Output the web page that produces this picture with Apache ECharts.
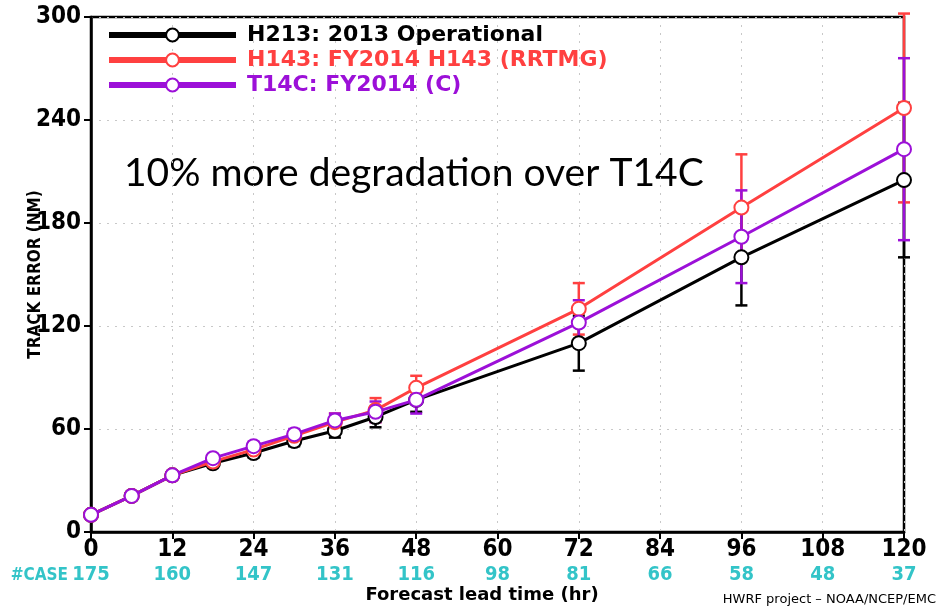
<!DOCTYPE html>
<html>
<head>
<meta charset="utf-8">
<script src="https://cdn.jsdelivr.net/npm/echarts@6/dist/echarts.min.js"></script>
<style>
html,body{margin:0;padding:0;background:#fff;}
#chart{width:940px;height:609px;}
</style>
</head>
<body>
<div id="chart"></div>
<script>
// ---- data ----
const hours = [0, 6, 12, 18, 24, 30, 36, 42, 48, 72, 96, 120];
const seriesNames = ['H213: 2013 Operational', 'H143: FY2014 H143 (RRTMG)', 'T14C: FY2014 (C)'];
const h213 = [10, 21, 33, 40, 46, 53, 59, 67, 77, 110, 160, 205];
const h143 = [10, 21, 33, 41, 48, 56, 64, 71, 84, 130, 189, 247];
const t14c = [10, 21, 33, 43, 50, 57, 65, 70, 77, 122, 172, 223];
const h213Err = [1, 1, 1.5, 2, 2.5, 3, 4, 6, 7, 16, 28, 45];
const h143Err = [1, 1, 1.5, 2, 2.5, 3, 5, 7, 7, 15, 31, 55];
const t14cErr = [1, 1, 1.5, 2, 2.5, 3, 4, 6, 8, 13, 27, 53];
const tickHours = [0, 12, 24, 36, 48, 60, 72, 84, 96, 108, 120];
const caseCounts = [175, 160, 147, 131, 116, 98, 81, 66, 58, 48, 37];
const yTicks = [0, 60, 120, 180, 240, 300];
const annotation = '10% more degradation over T14C';
const xTitle = 'Forecast lead time (hr)';
const yTitle = 'TRACK ERROR (NM)';

const colors = ['#000000', '#ff4040', '#9c10d8'];
const narrow = '"DejaVu Sans Condensed","Liberation Sans Narrow",sans-serif';
const cyan = '#33c4c8';

function pairs(vals) { return hours.map((h, i) => [h, vals[i]]); }
function errPairs(vals, err) { return hours.map((h, i) => [h, vals[i] - err[i], vals[i] + err[i]]); }

function errRender(color) {
  return function (params, api) {
    const x = api.value(0);
    const lo = api.coord([x, api.value(1)]);
    const hi = api.coord([x, api.value(2)]);
    const w = 6;
    const st = { stroke: color, lineWidth: 2.5 };
    return {
      type: 'group',
      children: [
        { type: 'line', shape: { x1: lo[0], y1: lo[1], x2: hi[0], y2: hi[1] }, style: st },
        { type: 'line', shape: { x1: lo[0] - w, y1: lo[1], x2: lo[0] + w, y2: lo[1] }, style: st },
        { type: 'line', shape: { x1: hi[0] - w, y1: hi[1], x2: hi[0] + w, y2: hi[1] }, style: st }
      ]
    };
  };
}

const lineVals = [h213, h143, t14c];
const errVals = [h213Err, h143Err, t14cErr];

const series = [];
lineVals.forEach((v, k) => {
  series.push({
    name: seriesNames[k] + ' error',
    type: 'custom',
    renderItem: errRender(colors[k]),
    data: errPairs(v, errVals[k]),
    encode: { x: 0, y: [1, 2] },
    z: 2 + k,
    silent: true
  });
});
lineVals.forEach((v, k) => {
  series.push({
    name: seriesNames[k],
    type: 'line',
    data: pairs(v),
    color: colors[k],
    symbol: 'emptyCircle',
    symbolSize: 14,
    lineStyle: { color: colors[k], width: 3 },
    itemStyle: { color: colors[k], borderColor: colors[k], borderWidth: 2.5 },
    z: 5 + k,
    animation: false
  });
});

const chart = echarts.init(document.getElementById('chart'), null, { renderer: 'canvas' });
chart.setOption({
  animation: false,
  backgroundColor: '#ffffff',
  grid: { left: 91, right: 36, top: 17, bottom: 77, show: true, borderColor: '#000', borderWidth: 2.5 },
  legend: {
    orient: 'vertical',
    left: 106,
    top: 24,
    padding: 0,
    itemWidth: 127,
    itemHeight: 16,
    itemGap: 3,
    data: seriesNames.map((n, k) => ({
      name: n,
      textStyle: { color: colors[k] }
    })),
    textStyle: { fontFamily: '"DejaVu Sans",sans-serif', fontWeight: 'bold', fontSize: 22, padding: [0, 0, 0, 6] },
    lineStyle: { width: 6 },
    itemStyle: { borderWidth: 2.5 }
  },
  xAxis: {
    type: 'value',
    min: 0, max: 120, interval: 12,
    axisLine: { lineStyle: { color: '#000', width: 2.5 } },
    axisTick: { length: 7, lineStyle: { color: '#000', width: 2 } },
    splitLine: { show: true, lineStyle: { color: '#c8c8c8', type: [2, 6], width: 1 } },
    axisLabel: {
      margin: 6,
      formatter: function (v) {
        const i = tickHours.indexOf(v);
        return '{v|' + v + '}\n{c|' + (i >= 0 ? caseCounts[i] : '') + '}';
      },
      rich: {
        v: { fontFamily: narrow, fontWeight: 'bold', fontSize: 24, color: '#000', lineHeight: 24 },
        c: { fontFamily: narrow, fontWeight: 'bold', fontSize: 20, color: cyan, lineHeight: 26 }
      }
    }
  },
  yAxis: {
    type: 'value',
    min: 0, max: 300, interval: 60,
    name: yTitle,
    nameLocation: 'middle',
    nameGap: 47,
    nameMoveOverlap: false,
    nameRotate: 90,
    nameTextStyle: { fontFamily: narrow, fontWeight: 'bold', fontSize: 17, color: '#000' },
    axisLine: { lineStyle: { color: '#000', width: 2.5 } },
    axisTick: { length: 7, lineStyle: { color: '#000', width: 2 } },
    splitLine: { show: true, lineStyle: { color: '#c8c8c8', type: [2, 6], width: 1 } },
    axisLabel: {
      margin: 10,
      fontFamily: narrow, fontWeight: 'bold', fontSize: 24, color: '#000',
      formatter: function (v) { return yTicks.indexOf(v) >= 0 ? String(v) : ''; }
    }
  },
  graphic: [
    { type: 'text', left: 124, top: 154, style: { text: annotation, fontFamily: 'Lato, "Open Sans", sans-serif', fontSize: 39, fill: '#000' } },
    { type: 'text', x: 68, y: 567, style: { text: '#CASE', align: 'right', fontFamily: narrow, fontWeight: 'bold', fontSize: 17, fill: cyan } },
    { type: 'text', x: 482, y: 586, style: { text: xTitle, align: 'center', fontFamily: '"DejaVu Sans",sans-serif', fontWeight: 'bold', fontSize: 18, fill: '#000' } },
    { type: 'text', right: 4, top: 593, style: { text: 'HWRF project \u2013 NOAA/NCEP/EMC', fontFamily: '"DejaVu Sans",sans-serif', fontSize: 13, fill: '#000' } }
  ],
  series: series
});
</script>
</body>
</html>
